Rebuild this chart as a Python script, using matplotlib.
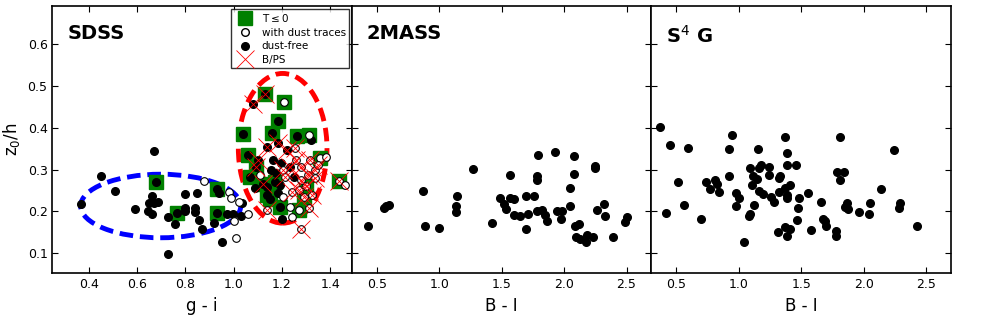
import numpy as np
import matplotlib
matplotlib.use("Agg")
import matplotlib.pyplot as plt
from matplotlib.patches import Ellipse
from matplotlib.lines import Line2D

# SDSS: g-i, z0/h, dust traces (1 = hollow), T<=0, B/PS
sdss_gi = [0.370, 0.449, 0.509, 0.590, 0.660, 0.650, 0.671, 0.688, 0.646, 0.660,
           0.670, 0.678, 0.729, 0.729, 0.758, 0.766, 0.798, 0.800, 0.798, 0.839,
           0.839, 0.849, 0.857, 0.867, 0.878, 0.920, 0.930, 0.941, 0.930, 0.950,
           0.971, 0.982, 0.989, 0.999, 1.001, 1.010, 1.024, 1.033, 1.032, 1.060,
           1.130, 1.079, 1.210, 1.183, 1.038, 1.158, 1.262, 1.312, 1.321, 1.061,
           1.137, 1.185, 1.220, 1.255, 1.100, 1.093, 1.066, 1.108, 1.163, 1.156,
           1.177, 1.197, 1.204, 1.232, 1.260, 1.280, 1.315, 1.356, 1.384, 1.335,
           1.307, 1.280, 1.335, 1.137, 1.192, 1.213, 1.248, 1.137, 1.185, 1.206,
           1.241, 1.269, 1.291, 1.325, 1.090, 1.192, 1.234, 1.269, 1.310, 1.140,
           1.199, 1.241, 1.279, 1.438, 1.462, 1.170, 1.120, 1.150, 1.300, 1.350]
sdss_z = [0.217, 0.285, 0.249, 0.206, 0.236, 0.219, 0.221, 0.222, 0.202, 0.193,
          0.345, 0.270, 0.187, 0.0975, 0.171, 0.197, 0.241, 0.202, 0.207, 0.207,
          0.199, 0.243, 0.179, 0.159, 0.273, 0.172, 0.253, 0.244, 0.196, 0.126,
          0.193, 0.247, 0.232, 0.195, 0.177, 0.136, 0.222, 0.220, 0.188, 0.194,
          0.482, 0.458, 0.461, 0.416, 0.385, 0.388, 0.380, 0.383, 0.372, 0.336,
          0.355, 0.363, 0.347, 0.351, 0.323, 0.307, 0.283, 0.287, 0.323, 0.299,
          0.291, 0.315, 0.299, 0.307, 0.323, 0.307, 0.323, 0.327, 0.331, 0.299,
          0.287, 0.275, 0.279, 0.259, 0.263, 0.283, 0.283, 0.239, 0.243, 0.235,
          0.247, 0.251, 0.235, 0.239, 0.255, 0.211, 0.211, 0.203, 0.207, 0.203,
          0.181, 0.187, 0.157, 0.273, 0.263, 0.270, 0.265, 0.230, 0.260, 0.310]
sdss_dust = [0, 0, 0, 0, 0, 0, 0, 0, 0, 0,
             0, 0, 0, 0, 0, 0, 0, 0, 0, 0,
             0, 0, 0, 0, 1, 0, 0, 0, 0, 0,
             0, 1, 1, 0, 1, 1, 1, 0, 0, 1,
             0, 0, 1, 0, 0, 0, 0, 1, 0, 0,
             0, 0, 0, 1, 0, 0, 0, 1, 0, 0,
             0, 0, 1, 0, 1, 1, 1, 1, 1, 1,
             1, 1, 1, 0, 0, 1, 0, 0, 0, 1,
             1, 1, 1, 1, 0, 0, 1, 1, 1, 1,
             0, 1, 1, 1, 1, 0, 0, 0, 1, 1]
sdss_early = [0, 0, 0, 0, 0, 0, 0, 0, 0, 0,
              0, 1, 0, 0, 0, 1, 0, 0, 0, 0,
              0, 0, 0, 0, 0, 0, 1, 0, 1, 0,
              0, 0, 0, 0, 0, 0, 0, 0, 0, 0,
              1, 0, 1, 1, 1, 1, 1, 1, 0, 1,
              0, 0, 0, 0, 0, 1, 1, 0, 0, 0,
              0, 0, 0, 0, 0, 0, 0, 1, 0, 0,
              0, 0, 0, 0, 0, 0, 0, 1, 0, 0,
              0, 0, 1, 0, 0, 1, 0, 1, 0, 0,
              0, 0, 0, 1, 0, 1, 1, 1, 1, 0]
sdss_bps = [0, 0, 0, 0, 0, 0, 0, 0, 0, 0,
            0, 0, 0, 0, 0, 0, 0, 0, 0, 0,
            0, 0, 0, 0, 0, 0, 0, 0, 0, 0,
            0, 0, 0, 0, 0, 0, 0, 0, 0, 0,
            1, 1, 0, 0, 0, 0, 0, 0, 0, 0,
            1, 1, 1, 1, 1, 1, 0, 0, 0, 0,
            0, 0, 1, 1, 1, 1, 1, 0, 0, 1,
            1, 1, 1, 0, 0, 1, 0, 0, 0, 0,
            1, 1, 1, 1, 0, 0, 0, 0, 1, 1,
            0, 0, 1, 1, 0, 0, 1, 0, 1, 1]

# 2MASS: B-I, z0/h
twomass_bi = [0.425, 0.553, 0.575, 0.594, 0.869, 0.882, 0.995, 1.142, 1.136, 1.131,
              1.270, 1.420, 1.484, 1.516, 1.538, 1.564, 1.597, 1.564, 1.602, 1.650,
              1.696, 1.709, 1.698, 1.760, 1.779, 1.784, 1.789, 1.784, 1.824, 1.846,
              1.864, 1.928, 1.944, 1.984, 1.971, 2.051, 2.051, 2.080, 2.078, 2.086,
              2.120, 2.094, 2.126, 2.174, 2.185, 2.228, 2.246, 2.246, 2.265, 2.319,
              2.327, 2.389, 2.488, 2.506]
twomass_z = [0.166, 0.209, 0.213, 0.215, 0.249, 0.166, 0.161, 0.236, 0.213, 0.198,
             0.301, 0.172, 0.233, 0.217, 0.206, 0.232, 0.229, 0.287, 0.191, 0.189,
             0.238, 0.195, 0.157, 0.238, 0.275, 0.285, 0.335, 0.201, 0.204, 0.191,
             0.177, 0.341, 0.201, 0.201, 0.182, 0.255, 0.213, 0.333, 0.290, 0.165,
             0.170, 0.139, 0.133, 0.127, 0.143, 0.140, 0.309, 0.304, 0.204, 0.217,
             0.189, 0.138, 0.175, 0.186]

# S4G: B-I, z0/h
s4g_bi = [0.372, 0.414, 0.452, 0.513, 0.559, 0.591, 0.698, 0.735, 0.767, 0.808,
          0.826, 0.840, 0.923, 0.925, 0.947, 0.976, 1.000, 0.979, 1.038, 1.078,
          1.089, 1.089, 1.107, 1.115, 1.121, 1.142, 1.155, 1.161, 1.164, 1.179,
          1.193, 1.244, 1.244, 1.254, 1.281, 1.316, 1.321, 1.329, 1.324, 1.372,
          1.372, 1.372, 1.388, 1.388, 1.383, 1.388, 1.412, 1.409, 1.388, 1.458,
          1.468, 1.471, 1.484, 1.551, 1.578, 1.656, 1.672, 1.688, 1.698, 1.784,
          1.781, 1.781, 1.811, 1.813, 1.843, 1.864, 1.851, 1.878, 1.961, 2.044,
          2.052, 2.137, 2.247, 2.290, 2.282, 2.427]
s4g_z = [0.401, 0.197, 0.359, 0.271, 0.216, 0.351, 0.183, 0.271, 0.254, 0.275,
         0.265, 0.247, 0.350, 0.284, 0.383, 0.243, 0.232, 0.212, 0.128, 0.190,
         0.195, 0.303, 0.262, 0.285, 0.216, 0.277, 0.350, 0.303, 0.250, 0.312,
         0.241, 0.306, 0.288, 0.235, 0.222, 0.150, 0.281, 0.284, 0.246, 0.378,
         0.257, 0.162, 0.339, 0.310, 0.239, 0.232, 0.263, 0.158, 0.142, 0.312,
         0.179, 0.208, 0.231, 0.243, 0.155, 0.223, 0.183, 0.177, 0.166, 0.294,
         0.152, 0.142, 0.377, 0.275, 0.295, 0.220, 0.211, 0.206, 0.198, 0.195,
         0.220, 0.254, 0.346, 0.220, 0.208, 0.166]

plt.rcParams.update({'font.size': 9, 'xtick.direction': 'in', 'ytick.direction': 'in',
                     'xtick.top': True, 'ytick.right': True,
                     'xtick.major.size': 4, 'ytick.major.size': 4})

fig = plt.figure(figsize=(9.81, 3.36), dpi=100)
fig.subplots_adjust(left=0.0535, right=0.9694, top=0.983, bottom=0.1866, wspace=0)
ax1 = fig.add_subplot(131)
ax2 = fig.add_subplot(132, sharey=ax1)
ax3 = fig.add_subplot(133, sharey=ax1)

gi = np.array(sdss_gi)
z = np.array(sdss_z)
dust = np.array(sdss_dust, dtype=bool)
early = np.array(sdss_early, dtype=bool)
bps = np.array(sdss_bps, dtype=bool)

ax1.plot(gi[early], z[early], 's', color='green', mec='green', ms=10, zorder=2)
ax1.plot(gi[~dust], z[~dust], 'o', color='k', ms=5.5, zorder=3)
ax1.plot(gi[dust], z[dust], 'o', mfc='w', mec='k', ms=5.5, mew=0.8, zorder=3)
ax1.plot(gi[bps], z[bps], 'x', color='red', ms=13, mew=0.6, zorder=4)

ax1.add_patch(Ellipse((0.698, 0.213), 0.663, 0.152, fill=False, ec='blue',
                      lw=3.5, ls=(0, (2.8, 1.4)), zorder=1))
ax1.add_patch(Ellipse((1.203, 0.351), 0.367, 0.358, fill=False, ec='red',
                      lw=3.5, ls=(0, (2.8, 1.4)), zorder=1))

handles = [Line2D([], [], ls='', marker='s', color='green', ms=10),
           Line2D([], [], ls='', marker='o', mfc='w', mec='k', ms=5.5),
           Line2D([], [], ls='', marker='o', color='k', ms=5.5),
           Line2D([], [], ls='', marker='x', color='red', ms=13, mew=0.6)]
leg = ax1.legend(handles, [r'T$\leq$0', 'with dust traces', 'dust-free', 'B/PS'],
                 loc='upper right', fontsize=7.5, numpoints=1, frameon=True,
                 fancybox=False, borderaxespad=0.3, handletextpad=0.6,
                 labelspacing=0.35, borderpad=0.3)
leg.get_frame().set_edgecolor('k')
leg.get_frame().set_linewidth(1.0)

ax2.plot(twomass_bi, twomass_z, 'o', color='k', ms=5.5)
ax3.plot(s4g_bi, s4g_z, 'o', color='k', ms=5.5)

ax1.set_xlim(0.25, 1.49)
ax1.set_ylim(0.052, 0.692)
ax1.set_xticks([0.4, 0.6, 0.8, 1.0, 1.2, 1.4])
ax1.set_yticks([0.1, 0.2, 0.3, 0.4, 0.5, 0.6])
for ax in (ax2, ax3):
    ax.set_xlim(0.3, 2.7)
    ax.set_xticks([0.5, 1.0, 1.5, 2.0, 2.5])
    plt.setp(ax.get_yticklabels(), visible=False)

for ax in (ax1, ax2, ax3):
    for s in ax.spines.values():
        s.set_linewidth(1.2)

ax1.set_xlabel('g - i', fontsize=12)
ax2.set_xlabel('B - I', fontsize=12)
ax3.set_xlabel('B - I', fontsize=12)
ax1.set_ylabel(r'z$_0$/h', fontsize=12)

ax1.text(0.05, 0.93, 'SDSS', transform=ax1.transAxes, fontsize=14,
         fontweight='bold', va='top')
ax2.text(0.05, 0.93, '2MASS', transform=ax2.transAxes, fontsize=14,
         fontweight='bold', va='top')
ax3.text(0.05, 0.93, r'S$^4$ G', transform=ax3.transAxes, fontsize=14,
         fontweight='bold', va='top')

fig.savefig('out.png', dpi=100)
